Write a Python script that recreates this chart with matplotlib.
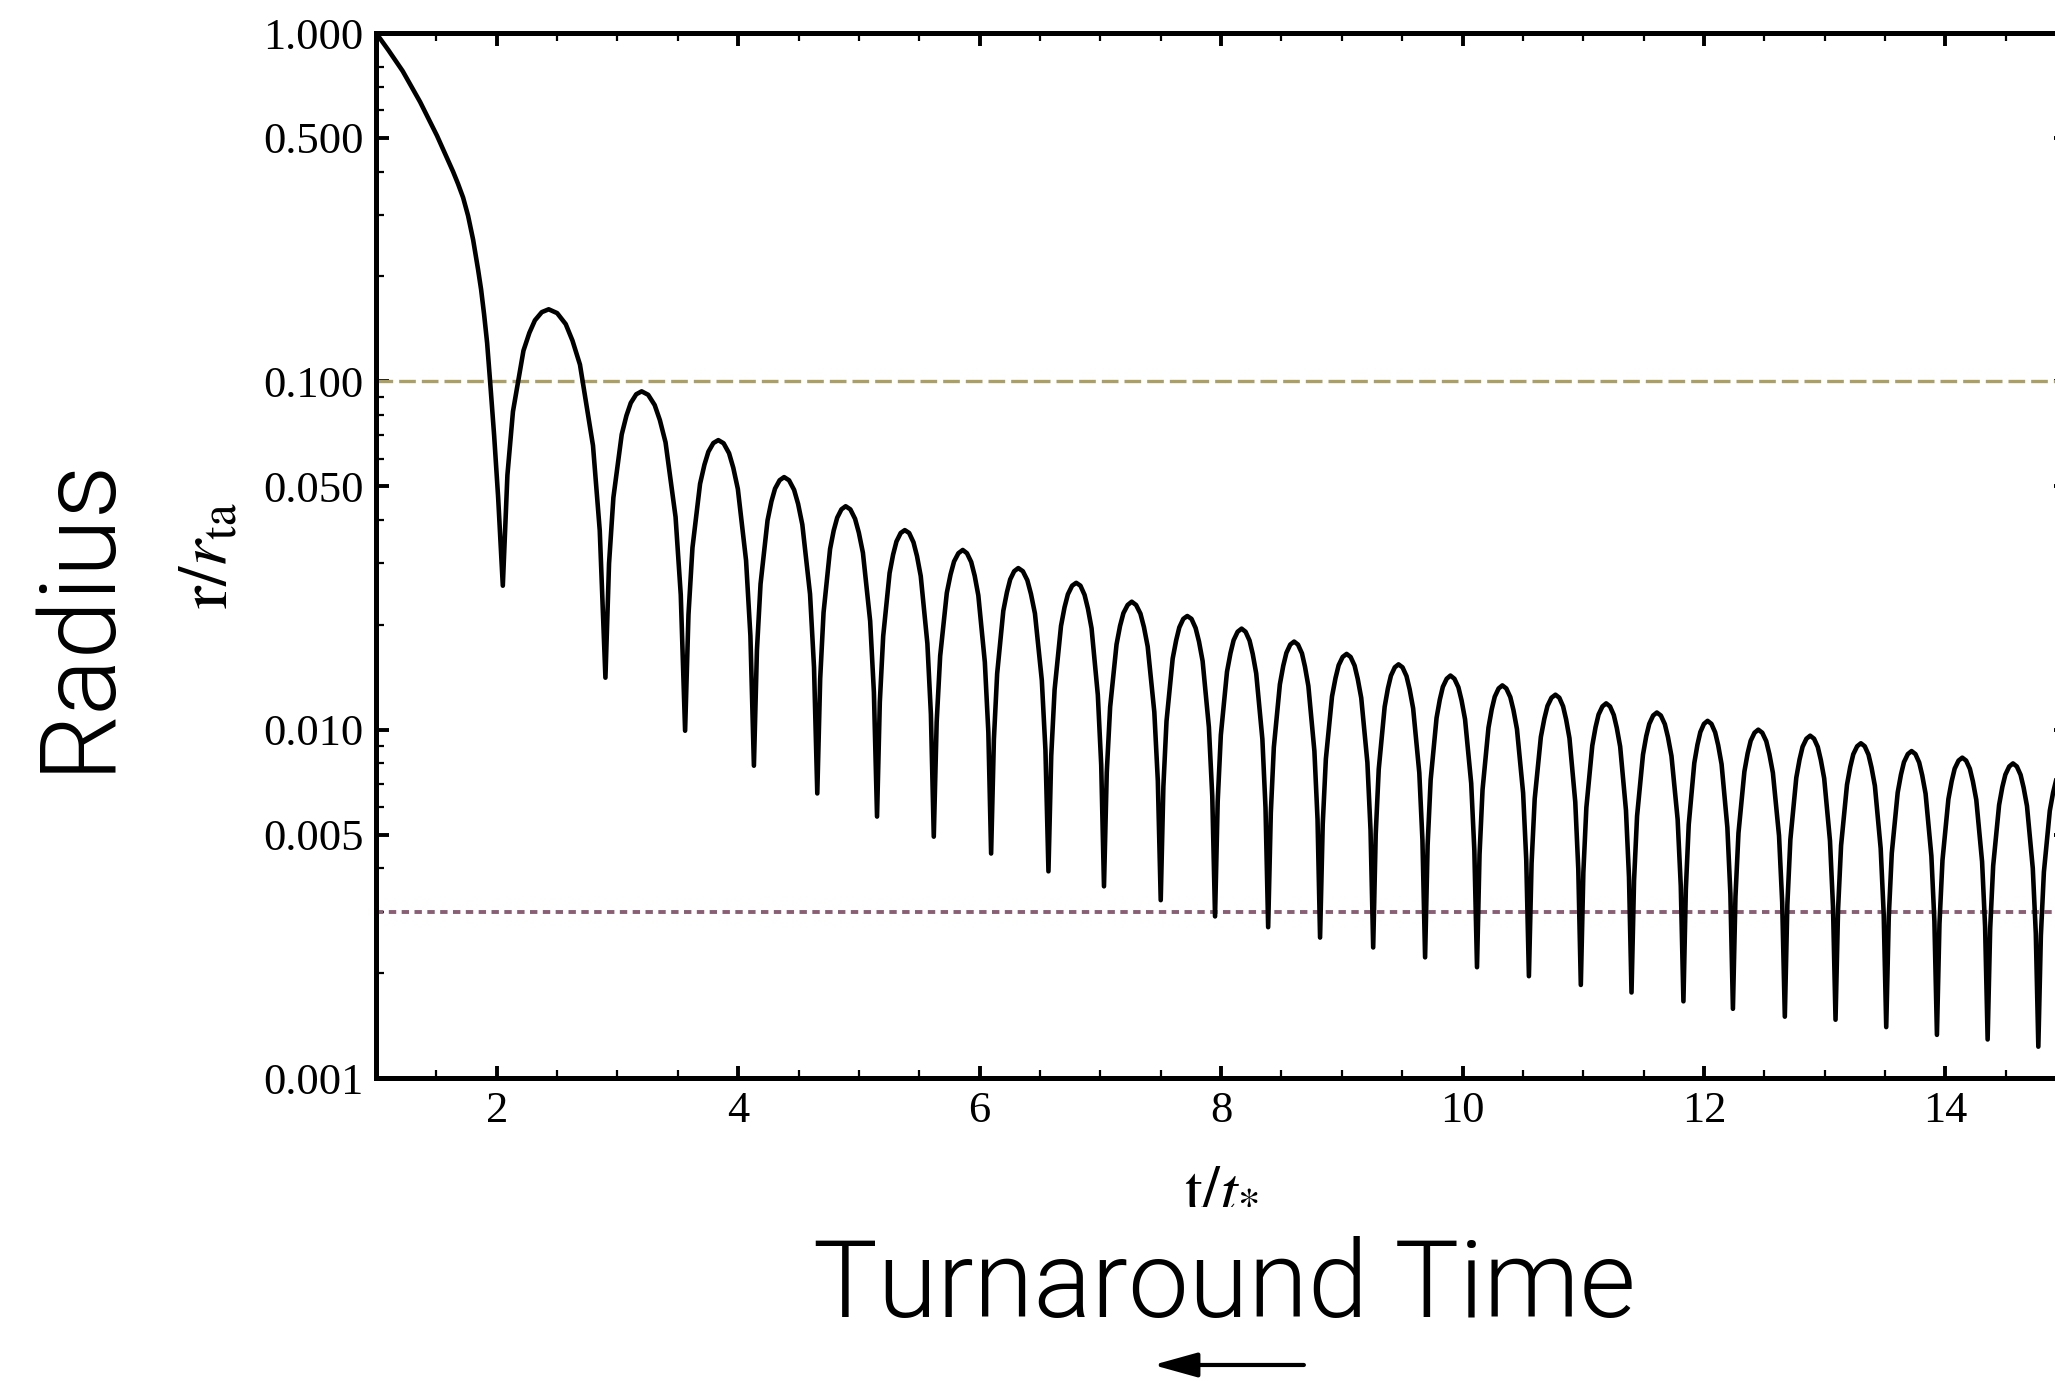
import matplotlib
matplotlib.use("Agg")
from matplotlib import pyplot as plt
from matplotlib.ticker import FixedLocator, FixedFormatter, MultipleLocator, NullFormatter
#
plt.rcParams['font.family'] = 'Liberation Serif'
plt.rcParams['mathtext.fontset'] = 'stix'
#
# r/r_ta against t/t_* (infall, then one row per bounce)
t_curve = [
    1.00, 1.10, 1.22, 1.365, 1.505, 1.572, 1.638, 1.679, 1.721, 1.762, 1.804, 1.845, 1.870, 1.895,
    1.920, 1.944, 1.978, 2.011,
    2.05, 2.088, 2.134, 2.221, 2.27, 2.316, 2.373, 2.43, 2.50, 2.571, 2.627, 2.689, 2.797, 2.853,
    2.90, 2.93, 2.966, 3.035, 3.074, 3.11, 3.155, 3.20, 3.254, 3.308, 3.351, 3.398, 3.481, 3.524,
    3.56, 3.588, 3.621, 3.684, 3.72, 3.753, 3.794, 3.835, 3.879, 3.924, 3.959, 3.997, 4.065, 4.101,
    4.13, 4.155, 4.185, 4.243, 4.275, 4.305, 4.343, 4.38, 4.421, 4.463, 4.496, 4.531, 4.595, 4.628,
    4.655, 4.679, 4.707, 4.761, 4.791, 4.82, 4.855, 4.89, 4.929, 4.968, 4.999, 5.033, 5.093, 5.124,
    5.15, 5.173, 5.201, 5.254, 5.283, 5.311, 5.346, 5.38, 5.416, 5.452, 5.481, 5.512, 5.567, 5.596,
    5.62, 5.644, 5.673, 5.728, 5.759, 5.788, 5.824, 5.86, 5.895, 5.93, 5.959, 5.989, 6.043, 6.072,
    6.095, 6.118, 6.145, 6.196, 6.226, 6.253, 6.286, 6.32, 6.358, 6.395, 6.425, 6.458, 6.515, 6.545,
    6.57, 6.593, 6.621, 6.674, 6.703, 6.731, 6.766, 6.80, 6.835, 6.869, 6.897, 6.927, 6.979, 7.007,
    7.03, 7.053, 7.081, 7.134, 7.163, 7.191, 7.226, 7.26, 7.296, 7.332, 7.361, 7.392, 7.447, 7.476,
    7.50, 7.522, 7.548, 7.599, 7.628, 7.654, 7.687, 7.72, 7.755, 7.789, 7.817, 7.847, 7.899, 7.927,
    7.95, 7.972, 7.998, 8.049, 8.078, 8.104, 8.137, 8.17, 8.203, 8.236, 8.262, 8.291, 8.342, 8.368,
    8.39, 8.412, 8.437, 8.487, 8.515, 8.541, 8.573, 8.605, 8.637, 8.67, 8.695, 8.723, 8.773, 8.799,
    8.82, 8.842, 8.868, 8.919, 8.948, 8.974, 9.007, 9.04, 9.073, 9.106, 9.132, 9.161, 9.212, 9.238,
    9.26, 9.281, 9.306, 9.355, 9.382, 9.407, 9.439, 9.47, 9.503, 9.536, 9.562, 9.591, 9.642, 9.668,
    9.69, 9.711, 9.736, 9.785, 9.812, 9.837, 9.869, 9.90, 9.933, 9.966, 9.992, 10.021, 10.072, 10.098,
    10.12, 10.141, 10.166, 10.215, 10.242, 10.267, 10.299, 10.33, 10.363, 10.396, 10.422, 10.451, 10.502, 10.528,
    10.55, 10.572, 10.598, 10.649, 10.678, 10.704, 10.737, 10.77, 10.802, 10.833, 10.858, 10.886, 10.934, 10.959,
    10.98, 11.001, 11.026, 11.075, 11.102, 11.127, 11.159, 11.19, 11.222, 11.253, 11.278, 11.306, 11.354, 11.379,
    11.40, 11.421, 11.446, 11.495, 11.522, 11.547, 11.579, 11.61, 11.643, 11.676, 11.702, 11.731, 11.782, 11.808,
    11.83, 11.85, 11.874, 11.92, 11.946, 11.97, 12.0, 12.03, 12.062, 12.093, 12.118, 12.146, 12.194, 12.219,
    12.24, 12.261, 12.286, 12.335, 12.362, 12.387, 12.419, 12.45, 12.483, 12.516, 12.542, 12.571, 12.622, 12.648,
    12.67, 12.691, 12.716, 12.765, 12.792, 12.817, 12.849, 12.88, 12.912, 12.943, 12.968, 12.996, 13.044, 13.069,
    13.09, 13.111, 13.136, 13.185, 13.212, 13.237, 13.269, 13.30, 13.332, 13.363, 13.388, 13.416, 13.464, 13.489,
    13.51, 13.531, 13.556, 13.605, 13.632, 13.657, 13.689, 13.72, 13.752, 13.783, 13.808, 13.836, 13.884, 13.909,
    13.93, 13.951, 13.976, 14.025, 14.052, 14.077, 14.109, 14.14, 14.172, 14.203, 14.228, 14.256, 14.304, 14.329,
    14.35, 14.371, 14.396, 14.445, 14.472, 14.497, 14.529, 14.56, 14.592, 14.623, 14.648, 14.676, 14.724, 14.749,
    14.77, 14.791, 14.816, 14.865, 14.892, 14.917, 14.949, 14.98, 15.04,
]
r_curve = [
    1.0, 0.895, 0.778, 0.634, 0.507, 0.450, 0.40, 0.369, 0.337, 0.299, 0.255, 0.2094, 0.1836, 0.1556,
    0.1289, 0.1007, 0.070, 0.0466,
    0.0259, 0.0538, 0.0819, 0.1225, 0.1378, 0.1497, 0.158, 0.161, 0.157, 0.146, 0.1309, 0.1117, 0.0654, 0.0373,
    0.0141, 0.0300, 0.0464, 0.0704, 0.0797, 0.0867, 0.0918, 0.0936, 0.0915, 0.0855, 0.0774, 0.0668, 0.0408, 0.0244,
    0.00993, 0.0214, 0.0333, 0.0508, 0.0576, 0.0628, 0.0665, 0.0678, 0.0664, 0.0622, 0.0565, 0.0491, 0.0306, 0.0186,
    0.00788, 0.0169, 0.0262, 0.0399, 0.0452, 0.0492, 0.0520, 0.0531, 0.0520, 0.0488, 0.0445, 0.0388, 0.0245, 0.0151,
    0.00656, 0.0140, 0.0217, 0.0330, 0.0373, 0.0406, 0.0429, 0.0438, 0.0429, 0.0403, 0.0368, 0.0322, 0.0205, 0.0128,
    0.00563, 0.0120, 0.01856, 0.02816, 0.0318, 0.0347, 0.0367, 0.0374, 0.0367, 0.0345, 0.0315, 0.0276, 0.01768, 0.0111,
    0.00493, 0.01052, 0.01628, 0.0247, 0.0279, 0.0304, 0.0321, 0.0328, 0.0321, 0.0303, 0.02765, 0.0243, 0.01562, 0.00984,
    0.00441, 0.00938, 0.01448, 0.02194, 0.0248, 0.0270, 0.0285, 0.0291, 0.0285, 0.02686, 0.02453, 0.02156, 0.01386, 0.00874,
    0.00392, 0.00841, 0.01304, 0.01985, 0.02244, 0.02447, 0.0259, 0.0264, 0.0259, 0.02438, 0.02226, 0.01955, 0.01258, 0.00792,
    0.00355, 0.00754, 0.01162, 0.01757, 0.01985, 0.02161, 0.0228, 0.0233, 0.0228, 0.02153, 0.0197, 0.01733, 0.01123, 0.00713,
    0.00324, 0.00687, 0.01058, 0.0160, 0.01806, 0.01966, 0.0208, 0.0212, 0.0208, 0.01958, 0.01791, 0.01574, 0.01017, 0.00644,
    0.00291, 0.00623, 0.00965, 0.01466, 0.01659, 0.01807, 0.0191, 0.0195, 0.0191, 0.01802, 0.0165, 0.0145, 0.0094, 0.00597,
    0.00271, 0.00577, 0.0089, 0.01349, 0.01525, 0.01661, 0.01755, 0.0179, 0.01755, 0.01656, 0.01516, 0.01335, 0.00868, 0.00553,
    0.00253, 0.00535, 0.00824, 0.01246, 0.01407, 0.01531, 0.01617, 0.0165, 0.01617, 0.01527, 0.01399, 0.01234, 0.00805, 0.00515,
    0.00237, 0.00501, 0.0077, 0.01163, 0.01314, 0.01429, 0.0151, 0.0154, 0.0151, 0.01425, 0.01306, 0.01151, 0.00752, 0.00482,
    0.00222, 0.00467, 0.00717, 0.01081, 0.0122, 0.01327, 0.0140, 0.0143, 0.0140, 0.01323, 0.01214, 0.01071, 0.00701, 0.0045,
    0.00208, 0.00438, 0.00673, 0.01013, 0.01144, 0.01243, 0.01313, 0.0134, 0.01313, 0.0124, 0.01138, 0.01004, 0.00658, 0.00423,
    0.00196, 0.00413, 0.00633, 0.00953, 0.01076, 0.0117, 0.01235, 0.0126, 0.01235, 0.01167, 0.01071, 0.00945, 0.0062, 0.00398,
    0.00185, 0.00389, 0.00598, 0.0090, 0.01016, 0.01105, 0.01166, 0.0119, 0.01166, 0.01102, 0.01012, 0.00894, 0.00587, 0.00378,
    0.00176, 0.00369, 0.00565, 0.00848, 0.00958, 0.01039, 0.01098, 0.0112, 0.01098, 0.01037, 0.00952, 0.0084, 0.00553, 0.00356,
    0.00166, 0.00348, 0.00534, 0.00802, 0.00905, 0.00984, 0.01039, 0.0106, 0.01039, 0.00982, 0.00902, 0.00796, 0.00524, 0.00338,
    0.00158, 0.00331, 0.00505, 0.00758, 0.00855, 0.00929, 0.0098, 0.0100, 0.0098, 0.00927, 0.00851, 0.00752, 0.00496, 0.0032,
    0.0015, 0.00315, 0.00484, 0.00728, 0.00821, 0.00893, 0.00942, 0.00961, 0.00942, 0.00892, 0.00819, 0.00725, 0.0048, 0.00311,
    0.00147, 0.00305, 0.00465, 0.00695, 0.00782, 0.0085, 0.00896, 0.00914, 0.00896, 0.00848, 0.00779, 0.0069, 0.00456, 0.00296,
    0.0014, 0.0029, 0.00442, 0.0066, 0.00743, 0.00807, 0.00851, 0.00868, 0.00851, 0.00805, 0.0074, 0.00655, 0.00434, 0.00282,
    0.00133, 0.00277, 0.00422, 0.00632, 0.00711, 0.00773, 0.00815, 0.00831, 0.00815, 0.00772, 0.0071, 0.00629, 0.00418, 0.00272,
    0.00129, 0.00268, 0.00407, 0.00608, 0.00685, 0.00743, 0.00784, 0.0080, 0.00784, 0.00742, 0.00682, 0.00604, 0.0040, 0.0026,
    0.00123, 0.00256, 0.0039, 0.00585, 0.00659, 0.00715, 0.00755, 0.0077, 0.00714,
]
#
r_upper = 0.1     # dashed olive line
r_lower = 0.003   # dotted mauve line
#
y_major = [0.001, 0.005, 0.01, 0.05, 0.1, 0.5, 1.0]
y_labels = ['0.001', '0.005', '0.010', '0.050', '0.100', '0.500', '1.000']
y_minor = [0.002, 0.003, 0.004, 0.006, 0.007, 0.008, 0.009,
           0.02, 0.03, 0.04, 0.06, 0.07, 0.08, 0.09,
           0.2, 0.3, 0.4, 0.6, 0.7, 0.8]
#
fig = plt.figure(figsize=(20.55, 13.81), dpi=100)
ax = fig.add_axes([0.183, 0.2194, 0.8224, 0.7567])
ax.set_yscale('log')
#
ax.plot(t_curve, r_curve, color='black', lw=3.3, solid_joinstyle='round', zorder=3)
ax.axhline(r_upper, color='#aaa066', lw=2.4, dashes=(5.0, 1.8), zorder=2)
ax.axhline(r_lower, color='#8a5f74', lw=2.8, dashes=(1.9, 1.4), zorder=2)
#
ax.set_xlim(1, 15)
ax.set_ylim(0.001, 1.0)
ax.xaxis.set_major_locator(MultipleLocator(2))
ax.xaxis.set_minor_locator(MultipleLocator(0.5))
ax.yaxis.set_major_locator(FixedLocator(y_major))
ax.yaxis.set_major_formatter(FixedFormatter(y_labels))
ax.yaxis.set_minor_locator(FixedLocator(y_minor))
ax.yaxis.set_minor_formatter(NullFormatter())
#
ax.tick_params(which='both', direction='in', top=True, right=True,
               labelsize=32, pad=9)
ax.tick_params(which='major', length=9, width=2.8)
ax.tick_params(which='minor', length=6, width=1.6)
for s in ax.spines.values():
    s.set_linewidth(3.6)
#
ax.set_xlabel(r'$\mathrm{t}/t_{*}$', fontsize=46)
ax.xaxis.set_label_coords(0.5, -0.078)
ax.set_ylabel(r'$\mathrm{r}/r_{\mathrm{ta}}$', fontsize=50)
ax.yaxis.set_label_coords(-0.079, 0.5)
#
fig.text(0.5956, 0.0463, 'Turnaround Time', ha='center', va='baseline',
         fontsize=78, family='Roboto', weight=300)
fig.text(0.0521, 0.5561, 'Radius', ha='center', va='baseline', rotation=90,
         rotation_mode='anchor', fontsize=76, family='Roboto', weight=300)
ax.annotate('', xy=(0.5611, 0.0116), xytext=(0.6345, 0.0116),
            xycoords='figure fraction', textcoords='figure fraction',
            annotation_clip=False,
            arrowprops=dict(arrowstyle='-|>,head_length=0.9,head_width=0.25',
                            color='black', lw=3, mutation_scale=30,
                            shrinkA=0, shrinkB=0))
#
fig.savefig('out.png', dpi=100)
